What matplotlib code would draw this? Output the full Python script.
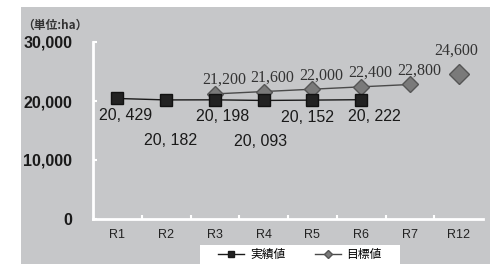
import matplotlib.pyplot as plt
from matplotlib.patches import Rectangle
from matplotlib.lines import Line2D

# data
cats = ["R1", "R2", "R3", "R4", "R5", "R6", "R7", "R12"]
actual = [20429, 20182, 20198, 20093, 20152, 20222]
actual_labels = ["20, 429", "20, 182", "20, 198", "20, 093", "20, 152", "20, 222"]
target_x = [2, 3, 4, 5, 6]
target = [21200, 21600, 22000, 22400, 22800]
target_r12 = 24600
yticks = [0, 10000, 20000, 30000]
ytick_labels = ["0", "10,000", "20,000", "30,000"]

plt.rcParams['font.family'] = ['Liberation Sans', 'Noto Sans CJK JP', 'DejaVu Sans']

fig = plt.figure(figsize=(4.9, 2.64), dpi=100)
fig.patch.set_facecolor("white")
# gray panel behind everything
fig.patches.append(Rectangle((21 / 490, 0), 1, 1 - 7 / 264, transform=fig.transFigure,
                             facecolor="#c6c7c9", edgecolor="none", zorder=-3))
# white legend strip
fig.patches.append(Rectangle((200 / 490, 0), 200 / 490, 19 / 264, transform=fig.transFigure,
                             facecolor="white", edgecolor="none", zorder=-2))

ax = fig.add_axes([93 / 490, 1 - 219 / 264, 390 / 490, 177 / 264])
ax.set_facecolor("none")
ax.set_xlim(0, len(cats))
ax.set_ylim(0, 30000)

for s in ["top", "right"]:
    ax.spines[s].set_visible(False)
for s in ["left", "bottom"]:
    ax.spines[s].set_color("white")
    ax.spines[s].set_linewidth(2)

ax.set_yticks(yticks)
ax.set_yticklabels(ytick_labels, fontsize=11.5, fontweight="bold", color="#1a1a1a")
ax.tick_params(axis="y", direction="in", length=3, color="white", width=1.5, pad=15)
ax.set_xticks(range(1, len(cats)))
ax.set_xticklabels([])
ax.tick_params(axis="x", direction="in", length=3, color="white", width=1.5)
for i, c in enumerate(cats):
    ax.text(i + 0.5, -1700, c, ha="center", va="top", fontsize=9, color="#222")

xs = [i + 0.5 for i in range(len(actual))]
txs = [i + 0.5 for i in target_x]

ax.plot(txs, target, color="#4a4a4a", lw=1, marker="D", markersize=8,
        markerfacecolor="#7a7a7a", markeredgecolor="#555", zorder=3)
ax.plot([len(cats) - 0.5], [target_r12], marker="D", markersize=10, linestyle="none",
        markerfacecolor="#7a7a7a", markeredgecolor="#555", zorder=3)
ax.plot(xs, actual, color="#1a1a1a", lw=1, marker="s", markersize=8,
        markerfacecolor="#222", markeredgecolor="#111", zorder=4)

# labels for actual values (below, alternating)
drops = [17, 41, 17, 41, 17, 17]
shifts = [8, 4, 8, -3, -5, 13]
for x, v, lab, d, s in zip(xs, actual, actual_labels, drops, shifts):
    ax.annotate(lab, (x, v), xytext=(s, -d), textcoords="offset pixels",
                ha="center", va="center", fontsize=11.5, color="#1a1a1a")

# labels for targets (above)
for x, v in zip(txs, target):
    ax.annotate(f"{v:,}", (x, v), xytext=(9, 14), textcoords="offset pixels",
                ha="center", va="center", fontsize=11.5, color="#333",
                family="Liberation Serif")
ax.annotate(f"{target_r12:,}", (len(cats) - 0.5, target_r12), xytext=(-2, 23),
            textcoords="offset pixels", ha="center", va="center", fontsize=11.5,
            color="#333", family="Liberation Serif")

fig.text(22 / 490, 1 - 25 / 264, "（単位:ha）", fontsize=8.5, fontweight="bold",
         color="#333", va="center", ha="left",
         family=['Noto Sans CJK JP', 'DejaVu Sans'])

handles = [Line2D([], [], color="#1a1a1a", lw=1, marker="s", markersize=5,
                  markerfacecolor="#222"),
           Line2D([], [], color="#4a4a4a", lw=1, marker="D", markersize=4,
                  markerfacecolor="#7a7a7a", markeredgecolor="#555")]
leg = fig.legend(handles, ["実績値", "目標値"], loc="center", ncol=2,
                 bbox_to_anchor=(300 / 490, 9.5 / 264), frameon=False,
                 prop={"family": ["Noto Sans CJK JP", "DejaVu Sans"], "size": 8.5},
                 handlelength=2.2, columnspacing=2.5, handletextpad=0.5)

fig.savefig("out.png", dpi=100)
